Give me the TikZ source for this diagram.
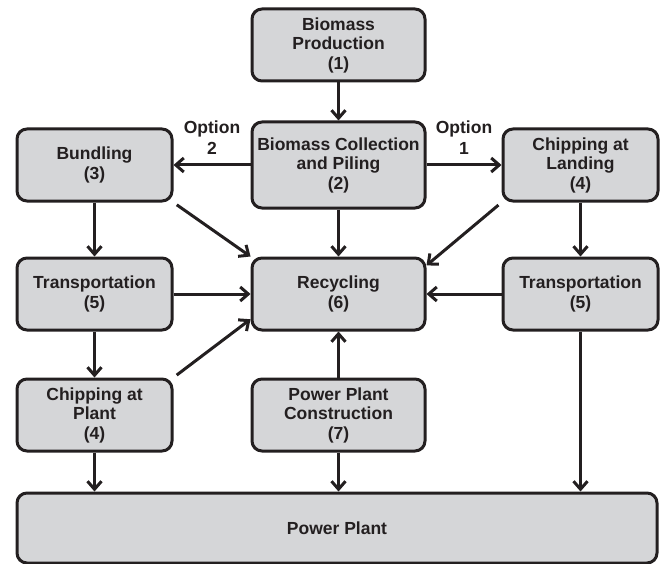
\documentclass[tikz,border=0pt]{standalone}
\usepackage{fontspec}
\setmainfont{Liberation Sans}
\usetikzlibrary{arrows.meta}
\definecolor{boxgray}{RGB}{213,214,216}
\definecolor{inkdark}{RGB}{35,31,32}

\begin{document}
\begin{tikzpicture}[x=1pt, y=-1pt,
        box/.style={draw=inkdark, fill=boxgray, line width=3pt, rounded corners=10pt,
            inner sep=0pt, align=center, text=inkdark,
            font=\fontsize{17.5}{19.5}\selectfont\bfseries},
        widebox/.style={box, minimum width=173pt, minimum height=72pt},
        sidebox/.style={box, minimum width=155pt, minimum height=72pt},
        optlabel/.style={inner sep=0pt, align=center, text=inkdark,
            font=\fontsize{17.5}{21}\selectfont\bfseries},
        flow/.style={draw=inkdark, line width=3pt, -{Straight Barb[length=8pt,width=14pt]}}]
    \useasboundingbox (0,0) rectangle (663,564);

    % Boxes
    \node[widebox] (prod) at (338.5,45) {Biomass\\Production\\(1)};
    \node[widebox, minimum height=86pt] (coll) at (338.5,165) {Biomass Collection\\and Piling\\(2)};
    \node[sidebox] (bund) at (94.5,165) {Bundling\\(3)};
    \node[sidebox] (land) at (580.5,165) {Chipping at\\Landing\\(4)};
    \node[sidebox] (transL) at (94.5,294) {Transportation\\(5)};
    \node[widebox] (recyc) at (338.5,294) {Recycling\\(6)};
    \node[sidebox] (transR) at (580.5,294) {Transportation\\(5)};
    \node[sidebox] (chipP) at (94.5,415) {Chipping at\\Plant\\(4)};
    \node[widebox] (constr) at (338.5,415) {Power Plant\\Construction\\(7)};
    \node[box, minimum width=640pt, minimum height=70pt] (plant) at (337,528) {Power Plant};

    % Arrows
    \draw[flow] (prod) -- (coll);
    \draw[flow] (coll.west) -- node[optlabel, above=9pt] (opt2) {Option\\2} (bund.east);
    \draw[flow] (coll.east) -- node[optlabel, above=9pt] (opt1) {Option\\1} (land.west);
    \draw[flow] (coll) -- (recyc);
    \draw[flow] (bund) -- (transL);
    \draw[flow] (land) -- (transR);
    \draw[flow, shorten <=4pt] (bund.south east) -- (recyc.north west);
    \draw[flow, shorten <=4pt] (land.south west) -- (recyc.18);
    \draw[flow] (transL) -- (recyc);
    \draw[flow] (transR) -- (recyc);
    \draw[flow] (transL) -- (chipP);
    \draw[flow, shorten <=4pt] (chipP.north east) -- (recyc.196);
    \draw[flow] (constr) -- (recyc);
    \draw[flow] (constr) -- (plant.north -| constr.south);
    \draw[flow] (chipP) -- (chipP.south |- plant.north);
    \draw[flow] (transR) -- (transR.south |- plant.north);
\end{tikzpicture}
\end{document}
